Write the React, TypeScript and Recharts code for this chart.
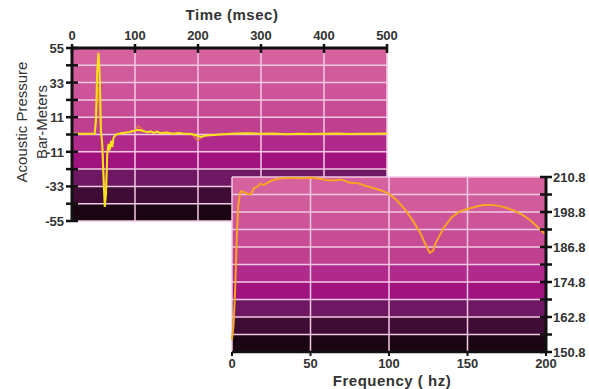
import React from 'react';
import { LineChart, Line, XAxis, YAxis, CartesianGrid } from 'recharts';

// time domain panel
const timeMs = [0, 10, 20, 30, 36, 38, 40, 42, 44, 46, 48, 50, 52, 54, 56, 58, 60, 62, 64, 66, 70, 80, 90, 100, 105, 110, 115, 120, 125, 130, 135, 140, 150, 160, 170, 180, 190, 200, 205, 210, 220, 240, 260, 280, 300, 320, 340, 360, 380, 400, 420, 440, 460, 480, 500];
const pressureMain = [0.5, 0.5, 0.5, 0.5, 0.5, 8, 40, 52, 38, 2, -6, -28, -46, -38, -12, -6, -10, -4, -8, -2, 0, 1, 1.5, 2.5, 3, 2.5, 2, 1.5, 2, 1, 1.8, 0.8, 1.2, 0.5, 1, 0.4, 0.3, -1, -1.5, -0.8, -0.5, 0.2, 0.6, 0.8, 0.4, 0.6, 0.2, 0.5, 0.3, 0.4, 0.6, 0.3, 0.5, 0.4, 0.6];
const pressureAlt = [0.5, 0.5, 0.5, 0.5, 0.8, 18, 21, 30, 12, 0, -4, -20, -38, -30, -14, -7, -9, -5, -6, -2, 0, 1, 1.5, 2.5, 5.5, 4, 2, 1.5, 2, 1, 1.8, 0.8, 1.2, 0.5, 1, 0.4, 0.3, -4, -2, -0.8, -0.5, 0.2, 0.6, 0.8, 0.4, 0.6, 0.2, 0.5, 0.3, 0.4, 0.6, 0.3, 0.5, 0.4, 0.6];
const timeTicks = [0, 100, 200, 300, 400, 500];
const pressureTicks = [-55, -44, -33, -22, -11, 0, 11, 22, 33, 44, 55];
const pressureLabels = [55, 33, 11, -11, -33, -55];

// frequency domain panel
const freqHz = [0, 1, 2, 3, 4, 5, 6, 8, 10, 12, 14, 16, 18, 20, 25, 30, 35, 40, 45, 50, 55, 60, 65, 70, 75, 80, 85, 90, 95, 100, 105, 110, 115, 120, 123, 126, 128, 130, 135, 140, 145, 150, 155, 160, 165, 170, 175, 180, 185, 190, 195, 200];
const levelDb = [155, 160, 172, 190, 201, 205, 206, 205.5, 205, 204.8, 207, 207.5, 208.5, 208, 209.5, 210.3, 210.5, 210.5, 210.4, 210.6, 210.3, 209.8, 209.6, 209.9, 208.8, 208.7, 207.8, 207, 206.2, 205, 202.8, 199.8, 196, 191.5, 188, 184.8, 185.5, 188.5, 193.5, 197, 199, 199.8, 200.6, 201.2, 201.2, 200.9, 200.2, 199.2, 197.8, 196, 193.5, 191];
const freqTicks = [0, 50, 100, 150, 200];
const levelTicks = [150.8, 156.8, 162.8, 168.8, 174.8, 180.8, 186.8, 192.8, 198.8, 204.8, 210.8];
const levelLabels = [210.8, 198.8, 186.8, 174.8, 162.8, 150.8];

const BANDS = ['#d5629f', '#d15c9c', '#cd5499', '#c84b96', '#c04090', '#b02a8c', '#a0127e', '#6e1864', '#3e0c34', '#1a0612'];

const timeData = timeMs.map((t, i) => ({ t, main: pressureMain[i], alt: pressureAlt[i] }));
const freqData = freqHz.map((f, i) => ({ f, db: levelDb[i] }));

const FONT = '"Liberation Sans", Arial, sans-serif';
const textStyle = { fontFamily: FONT, fontSize: 13, fontWeight: 700, fill: '#333' };

const TopTick = (props: any) => {
  const { x, y, payload } = props;
  return (
    <g>
      <line x1={x} x2={x} y1={y - 4} y2={y + 5} stroke="#111" strokeWidth={2.5} />
      <text x={x} y={y - 8} textAnchor="middle" style={textStyle}>{payload.value}</text>
    </g>
  );
};

const LeftTick = (props: any) => {
  const { x, y, payload } = props;
  const show = pressureLabels.includes(payload.value);
  return (
    <g>
      <line x1={x - 6} x2={x + 6} y1={y} y2={y} stroke="#111" strokeWidth={2.5} />
      {show && <text x={x - 8} y={y + 5} textAnchor="end" style={textStyle}>{payload.value}</text>}
    </g>
  );
};

const RightTick = (props: any) => {
  const { x, y, payload } = props;
  const show = levelLabels.some((v) => Math.abs(v - payload.value) < 0.01);
  return (
    <g>
      <line x1={x - 6} x2={x + 6} y1={y} y2={y} stroke="#111" strokeWidth={2.5} />
      {show && <text x={x + 7} y={y + 5} textAnchor="start" style={textStyle}>{Number(payload.value).toFixed(1)}</text>}
    </g>
  );
};

const BottomTick = (props: any) => {
  const { x, y, payload } = props;
  return (
    <g>
      <line x1={x} x2={x} y1={y} y2={y + 4} stroke="#111" strokeWidth={2} />
      <text x={x} y={y + 16} textAnchor="middle" style={textStyle}>{payload.value}</text>
    </g>
  );
};

const rotated = (cx: number, cy: number, w: number): React.CSSProperties => ({
  position: 'absolute',
  left: cx - w / 2,
  top: cy - 9,
  width: w,
  height: 18,
  lineHeight: '18px',
  textAlign: 'center',
  transform: 'rotate(-90deg)',
  transformOrigin: 'center',
  whiteSpace: 'nowrap',
  fontFamily: FONT,
  fontSize: 15,
  color: '#333',
});

export default function App() {
  return (
    <div style={{ position: 'absolute', left: 0, top: 0, width: 589, height: 389, background: '#fff', overflow: 'hidden' }}>
      <div style={{ position: 'absolute', left: 0, top: 0 }}>
        <LineChart width={400} height={230} data={timeData} margin={{ top: 0, left: 0, right: 13, bottom: 9 }}>
          <CartesianGrid stroke="#f3c8e3" strokeWidth={1.5} horizontalFill={BANDS} fillOpacity={1} />
          <XAxis dataKey="t" type="number" orientation="top" domain={[0, 500]} ticks={timeTicks} interval={0} height={48}
            tickSize={0} tickMargin={0} tick={<TopTick />} axisLine={{ stroke: '#111', strokeWidth: 3 }} tickLine={false} />
          <YAxis type="number" domain={[-55, 55]} ticks={pressureTicks} interval={0} width={72}
            tickSize={0} tickMargin={0} tick={<LeftTick />} axisLine={{ stroke: '#111', strokeWidth: 3 }} tickLine={false} />
          <Line dataKey="alt" type="linear" stroke="#f0803a" strokeWidth={1.2} dot={false} isAnimationActive={false} />
          <Line dataKey="main" type="linear" stroke="#f8e21a" strokeWidth={2} dot={false} isAnimationActive={false} />
        </LineChart>
      </div>
      <div style={{ position: 'absolute', left: 200, top: 160 }}>
        <LineChart width={389} height={229} data={freqData} margin={{ top: 17, left: 32, right: 0, bottom: 0 }}>
          <CartesianGrid stroke="#f3c8e3" strokeWidth={1.5} horizontalFill={BANDS} fillOpacity={1} />
          <XAxis dataKey="f" type="number" domain={[0, 200]} ticks={freqTicks} interval={0} height={37}
            tickSize={0} tickMargin={0} tick={<BottomTick />} axisLine={{ stroke: '#111', strokeWidth: 2.5 }} tickLine={false} />
          <YAxis type="number" orientation="right" domain={[150.8, 210.8]} ticks={levelTicks} interval={0} width={43}
            tickSize={0} tickMargin={0} tick={<RightTick />} axisLine={{ stroke: '#111', strokeWidth: 3 }} tickLine={false} />
          <Line dataKey="db" type="linear" stroke="#f5a623" strokeWidth={2} dot={false} isAnimationActive={false} />
        </LineChart>
      </div>
      <div style={{ position: 'absolute', left: 182, top: 6, width: 100, textAlign: 'center', fontFamily: FONT, fontSize: 15, fontWeight: 700, color: '#333', letterSpacing: 0.5, whiteSpace: 'nowrap' }}>
        Time (msec)
      </div>
      <div style={{ position: 'absolute', left: 327, top: 372, width: 130, height: 17, lineHeight: '17px', textAlign: 'center', fontFamily: FONT, fontSize: 15, fontWeight: 700, color: '#333', letterSpacing: 0.5, whiteSpace: 'nowrap' }}>
        Frequency ( hz)
      </div>
      <div style={rotated(22, 122, 140)}>Acoustic Pressure</div>
      <div style={rotated(42, 122, 100)}>Bar-Meters</div>
    </div>
  );
}
